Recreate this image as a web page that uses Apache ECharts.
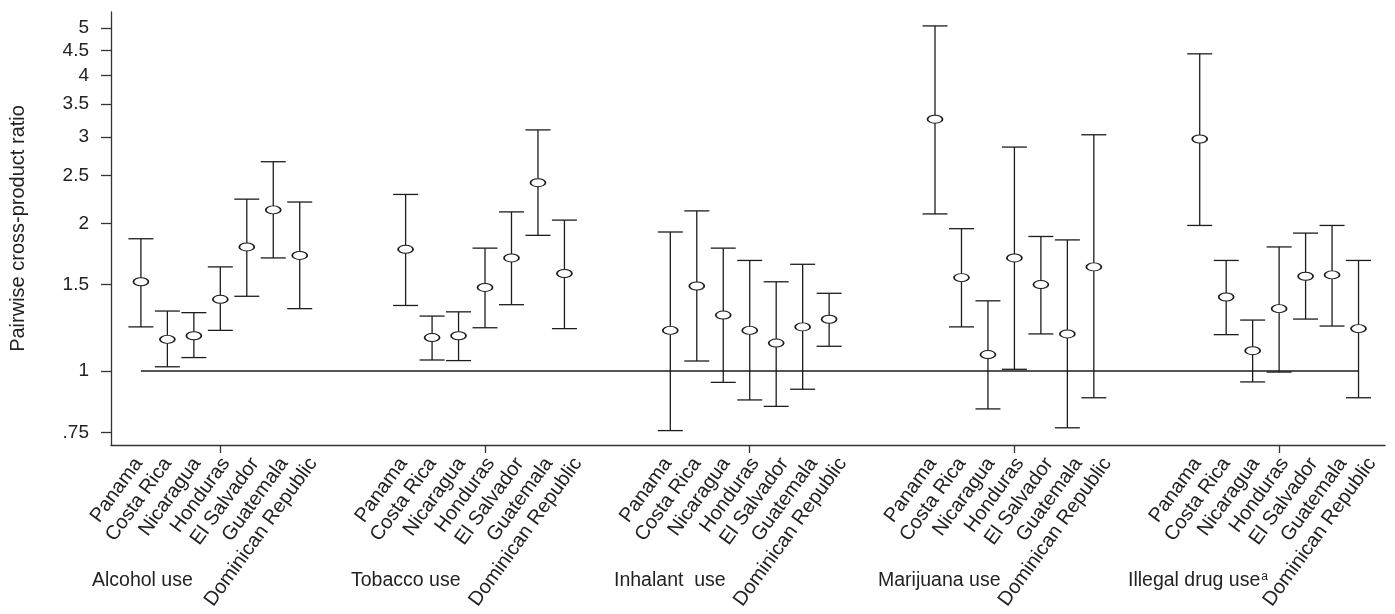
<!DOCTYPE html>
<html>
<head>
<meta charset="utf-8">
<script src="https://cdn.jsdelivr.net/npm/echarts@6/dist/echarts.min.js"></script>
<style>
html,body{margin:0;padding:0;background:#fff;}
#chart{width:1395px;height:614px;}
</style>
</head>
<body>
<div id="chart"></div>
<script>
// ---- data ----
const countries = ['Panama', 'Costa Rica', 'Nicaragua', 'Honduras', 'El Salvador', 'Guatemala', 'Dominican Republic'];
const groups = ['Alcohol use', 'Tobacco use', 'Inhalant  use', 'Marijuana use', 'Illegal drug use'];

const alcoholOR = [1.52, 1.16, 1.18, 1.40, 1.79, 2.13, 1.72];
const alcoholLo = [1.23, 1.02, 1.065, 1.21, 1.42, 1.70, 1.34];
const alcoholHi = [1.86, 1.325, 1.315, 1.63, 2.24, 2.67, 2.21];

const tobaccoOR = [1.77, 1.17, 1.18, 1.48, 1.70, 2.42, 1.58];
const tobaccoLo = [1.36, 1.053, 1.05, 1.225, 1.365, 1.89, 1.22];
const tobaccoHi = [2.29, 1.294, 1.32, 1.78, 2.11, 3.10, 2.03];

const inhalantOR = [1.21, 1.49, 1.30, 1.21, 1.14, 1.23, 1.275];
const inhalantLo = [0.756, 1.048, 0.948, 0.873, 0.847, 0.918, 1.123];
const inhalantHi = [1.92, 2.12, 1.78, 1.68, 1.52, 1.65, 1.44];

const marijuanaOR = [3.26, 1.55, 1.08, 1.70, 1.50, 1.19, 1.63];
const marijuanaLo = [2.09, 1.23, 0.837, 1.008, 1.19, 0.766, 0.882];
const marijuanaHi = [5.05, 1.95, 1.39, 2.86, 1.88, 1.85, 3.03];

const illegalOR = [2.97, 1.415, 1.10, 1.34, 1.56, 1.57, 1.22];
const illegalLo = [1.98, 1.186, 0.95, 0.995, 1.276, 1.235, 0.882];
const illegalHi = [4.43, 1.68, 1.27, 1.79, 1.91, 1.98, 1.68];

const yTickValues = [0.75, 1, 1.5, 2, 2.5, 3, 3.5, 4, 4.5, 5];
const yTickLabels = ['.75', '1', '1.5', '2', '2.5', '3', '3.5', '4', '4.5', '5'];
const refValue = 1;

// ---- build ----
const FONT = '"Liberation Sans", Arial, Helvetica, sans-serif';
const INK = '#1c1c1c';
const YMIN = 0.7066, YMAX = 5.391;
const XMIN = -1.13, XMAX = 47;
const GROUP_STEP = 10;
// country labels in the original are spread slightly wider than the bars
const LABEL_SPREAD = 0.1, LABEL_SHIFT = -0.09;

const allOR = [alcoholOR, tobaccoOR, inhalantOR, marijuanaOR, illegalOR];
const allLo = [alcoholLo, tobaccoLo, inhalantLo, marijuanaLo, illegalLo];
const allHi = [alcoholHi, tobaccoHi, inhalantHi, marijuanaHi, illegalHi];

const points = [], bars = [], xPos = [], labelPos = [], labelName = {};
allOR.forEach((arr, g) => {
  arr.forEach((v, k) => {
    const x = g * GROUP_STEP + k;
    xPos.push(x);
    points.push([x, v]);
    bars.push([x, allLo[g][k], allHi[g][k]]);
    const lp = +(x + LABEL_SHIFT + k * LABEL_SPREAD).toFixed(4);
    labelPos.push(lp);
    labelName[lp] = countries[k];
  });
});
const lastX = xPos[xPos.length - 1];

const chart = echarts.init(document.getElementById('chart'), null, {renderer: 'canvas'});

const groupLabelLeft = [92, 351, 614, 878, 1128];

const option = {
  backgroundColor: '#fff',
  animation: false,
  grid: {left: 105, right: 10, top: 12, bottom: 169, containLabel: false},
  xAxis: [
    {
      type: 'value', min: XMIN, max: XMAX, position: 'bottom',
      axisLine: {show: true, onZero: false, lineStyle: {color: '#333', width: 1.3}},
      splitLine: {show: false},
      axisTick: {show: true, customValues: [3, 13, 23, 33, 43], length: 8, lineStyle: {color: '#333', width: 1.3}},
      axisLabel: {show: false}
    },
    {
      type: 'value', min: XMIN, max: XMAX, position: 'bottom',
      axisLine: {show: false, onZero: false},
      splitLine: {show: false},
      axisTick: {show: false},
      axisLabel: {
        customValues: labelPos, rotate: 54, margin: 15,
        formatter: v => labelName[+(+v).toFixed(4)] || '',
        fontSize: 20, color: '#222', fontFamily: FONT
      }
    }
  ],
  yAxis: [
    {
      type: 'log', min: YMIN, max: YMAX, position: 'left',
      axisLine: {show: true, onZero: false, lineStyle: {color: '#333', width: 1.3}},
      axisTick: {show: false}, axisLabel: {show: false}, splitLine: {show: false}
    },
    {
      type: 'value', min: Math.log(YMIN), max: Math.log(YMAX), position: 'left',
      axisLine: {show: false, onZero: false},
      axisTick: {show: true, customValues: yTickValues.map(Math.log), length: 10, lineStyle: {color: '#333', width: 1.3}},
      axisLabel: {
        customValues: yTickValues.map(Math.log), margin: 22,
        formatter: v => {
          const i = yTickValues.findIndex(t => Math.abs(Math.log(t) - v) < 1e-6);
          return i >= 0 ? yTickLabels[i] : '';
        },
        fontSize: 19, color: '#222', fontFamily: FONT
      },
      splitLine: {show: false},
      name: 'Pairwise cross-product ratio', nameLocation: 'middle', nameGap: 83, nameRotate: 90,
      nameTextStyle: {fontSize: 20, color: '#222', fontFamily: FONT}
    }
  ],
  series: [
    {
      type: 'line', xAxisIndex: 0, yAxisIndex: 0, data: [[0, refValue], [lastX, refValue]],
      symbol: 'none', lineStyle: {color: INK, width: 1.3}, z: 1, silent: true
    },
    {
      type: 'custom', xAxisIndex: 0, yAxisIndex: 0, data: bars, z: 2, silent: true,
      renderItem: (params, api) => {
        const x = api.value(0);
        const lo = api.coord([x, api.value(1)]);
        const hi = api.coord([x, api.value(2)]);
        const hw = 12.5;
        const st = {stroke: INK, lineWidth: 1.3, fill: null};
        return {
          type: 'group',
          children: [
            {type: 'line', shape: {x1: lo[0], y1: lo[1], x2: hi[0], y2: hi[1]}, style: st},
            {type: 'line', shape: {x1: lo[0] - hw, y1: lo[1], x2: lo[0] + hw, y2: lo[1]}, style: st},
            {type: 'line', shape: {x1: hi[0] - hw, y1: hi[1], x2: hi[0] + hw, y2: hi[1]}, style: st}
          ]
        };
      }
    },
    {
      type: 'scatter', xAxisIndex: 0, yAxisIndex: 0, data: points, z: 3, silent: true,
      symbol: 'circle', symbolSize: [15, 8],
      itemStyle: {color: '#fff', borderColor: INK, borderWidth: 1.3, opacity: 1}
    }
  ],
  graphic: groups.map((g, i) => ({
    type: 'text', left: groupLabelLeft[i], top: 571, z: 10,
    style: i === 4 ? {
      text: '{n|' + g + '}{s|a}',
      rich: {
        n: {fontSize: 19.5, fontFamily: FONT, fill: '#222'},
        s: {fontSize: 12, fontFamily: FONT, fill: '#222', verticalAlign: 'top', padding: [0, 0, 8, 1]}
      }
    } : {text: g, fontSize: 19.5, fontFamily: FONT, fill: '#222'}
  }))
};
chart.setOption(option);
</script>
</body>
</html>
